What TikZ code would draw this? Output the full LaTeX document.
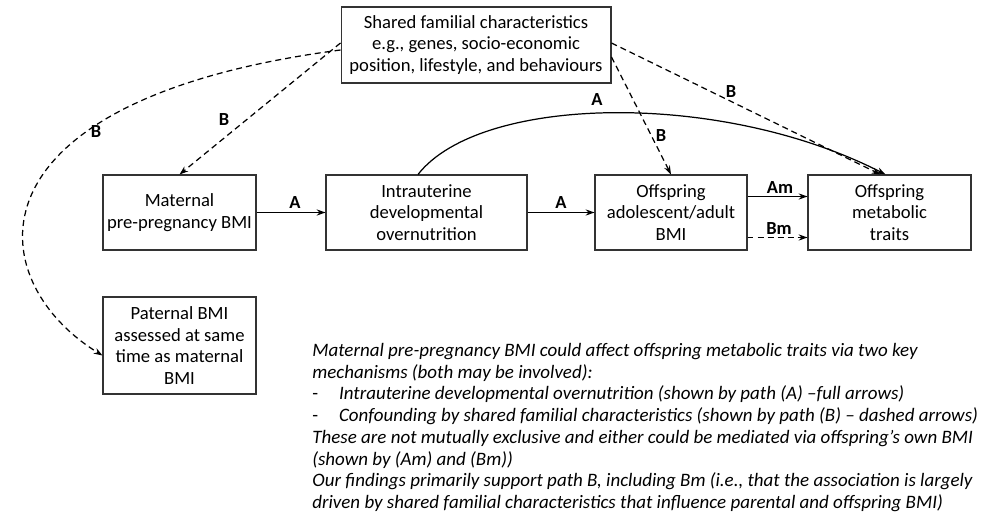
\documentclass[tikz,border=0pt]{standalone}
\usepackage{fontspec}
\setmainfont{Carlito}
\usetikzlibrary{arrows.meta}

\begin{document}
\begin{tikzpicture}[x=0.02cm, y=-0.02cm, font=\fontsize{10.6}{12.3}\selectfont,
  box/.style={draw=black!80, line width=0.6pt, align=center, inner sep=2pt},
  lbl/.style={font=\fontsize{10.5}{12}\selectfont\bfseries, inner sep=1pt},
  solidarr/.style={line width=0.7pt, -{Stealth[length=5pt,width=3.5pt]}},
  dasharr/.style={line width=0.7pt, dash pattern=on 3.4pt off 2.3pt, -{Stealth[length=5pt,width=3.5pt]}}]
\useasboundingbox (0,0) rectangle (981,517);
\node[box, minimum width=5.4cm, minimum height=1.52cm] (shared) at (476,45) {Shared familial characteristics\\e.g., genes, socio-economic\\position, lifestyle, and behaviours};
\node[box, minimum width=3.06cm, minimum height=1.5cm] (mat) at (179.5,212.5) {Maternal\\pre-pregnancy BMI};
\node[box, minimum width=4.02cm, minimum height=1.5cm] (intra) at (426.5,212.5) {Intrauterine\\developmental\\overnutrition};
\node[box, minimum width=3.04cm, minimum height=1.5cm] (obmi) at (671,212.5) {Offspring\\adolescent/adult\\BMI};
\node[box, minimum width=3.26cm, minimum height=1.5cm] (metab) at (889.5,212.5) {Offspring\\metabolic\\traits};
\node[box, minimum width=3.06cm, minimum height=1.94cm] (pat) at (179.5,345.5) {Paternal BMI\\assessed at same\\time as maternal\\BMI};
\draw[solidarr] (mat) -- (intra);
\draw[solidarr] (intra) -- (obmi);
\draw[solidarr] ([yshift=0.32cm]obmi.east) -- ([yshift=0.32cm]metab.west);
\draw[dasharr] ([yshift=-0.5cm]obmi.east) -- ([yshift=-0.5cm]metab.west);
\draw[solidarr] ([xshift=-0.17cm]intra.north) .. controls (480,95) and (720,90) .. ([xshift=-0.08cm]metab.north);
\draw[dasharr] ([yshift=0.04cm]shared.east) -- ([xshift=-0.18cm]metab.north);
\draw[dasharr] ([yshift=-0.24cm]shared.east) -- (obmi.north);
\draw[dasharr] ([yshift=0.04cm]shared.west) -- (mat.north);
\draw[dasharr] ([yshift=-0.1cm]shared.west) .. controls (-40,100) and (-20,280) .. ([yshift=-0.2cm]pat.west);
\node[lbl] (la1) at (295,203) {A};
\node[lbl] (la2) at (561,203) {A};
\node[lbl] (la3) at (597,100) {A};
\node[lbl] (lam) at (780,188) {Am};
\node[lbl] (lbm) at (779,229) {Bm};
\node[lbl] (lb1) at (731,92) {B};
\node[lbl] (lb2) at (661,136) {B};
\node[lbl] (lb3) at (224,120) {B};
\node[lbl] (lb4) at (96,132) {B};
\node[align=left, anchor=north west, inner sep=0pt, font=\fontsize{10.8}{12.35}\selectfont\itshape] (note) at (312,343) {Maternal pre-pregnancy BMI could affect offspring metabolic traits via two key\\mechanisms (both may be involved):\\\textup{-}\hspace{1.1em}Intrauterine developmental overnutrition (shown by path (A) --full arrows)\\\textup{-}\hspace{1.1em}Confounding by shared familial characteristics (shown by path (B) -- dashed arrows)\\These are not mutually exclusive and either could be mediated via offspring's own BMI\\(shown by (Am) and (Bm))\\Our findings primarily support path B, including Bm (i.e., that the association is largely\\driven by shared familial characteristics that influence parental and offspring BMI)};
\end{tikzpicture}
\end{document}
